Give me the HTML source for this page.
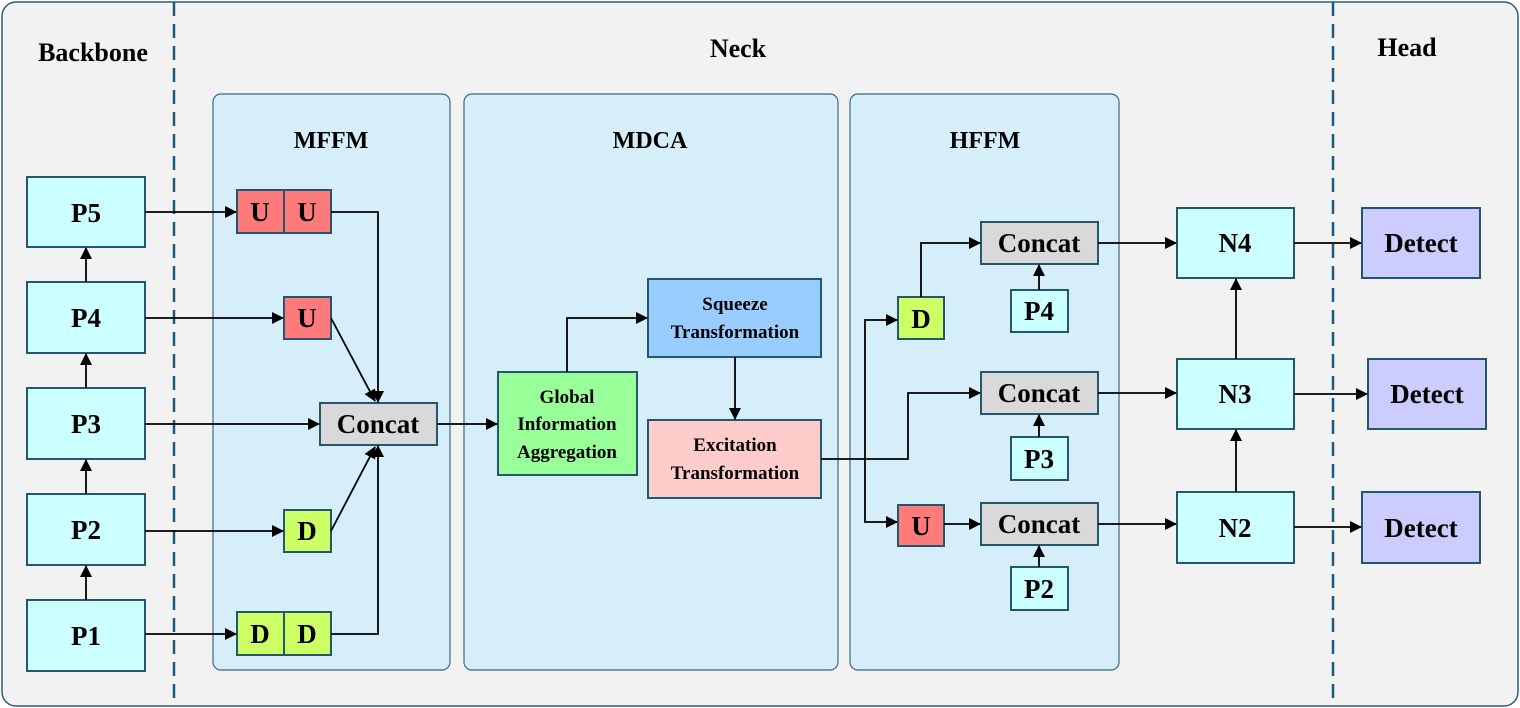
<!DOCTYPE html>
<html><head><style>body{margin:0;background:#fff}svg{display:block}</style></head><body>
<svg width="1520" height="708" viewBox="0 0 1520 708" xmlns="http://www.w3.org/2000/svg" font-family="Liberation Serif, serif" font-weight="bold">
<defs><marker id="a" markerWidth="12" markerHeight="12" refX="11" refY="6" orient="auto" markerUnits="userSpaceOnUse"><path d="M0,0L12,6L0,12z" fill="#000"/></marker></defs>
<rect x="2" y="2" width="1516" height="704" rx="14" fill="#f2f2f2" stroke="#2e5b74" stroke-width="1.5"/>
<g stroke="#1f5a7a" stroke-width="2.5" stroke-dasharray="14,8"><line x1="174" y1="2" x2="174" y2="706"/><line x1="1333" y1="2" x2="1333" y2="706"/></g>
<g fill="#d5eef9" stroke="#3a6a80" stroke-width="1.2"><rect x="213" y="94" width="237" height="576" rx="8"/><rect x="464" y="94" width="374" height="576" rx="8"/><rect x="850" y="94" width="269" height="576" rx="8"/></g>
<g font-size="26" text-anchor="middle"><text x="93" y="61">Backbone</text><text x="738" y="57">Neck</text><text x="1407" y="56">Head</text><text x="331" y="148" font-size="24">MFFM</text><text x="650" y="148" font-size="24">MDCA</text><text x="985" y="148" font-size="24">HFFM</text></g>
<g stroke="#24566e" stroke-width="2">
<g fill="#ccffff"><rect x="27" y="177" width="118" height="70"/><rect x="27" y="282" width="118" height="71"/><rect x="27" y="388" width="118" height="71"/><rect x="27" y="494" width="118" height="71"/><rect x="27" y="600" width="118" height="71"/>
<rect x="1011" y="290" width="57" height="42"/><rect x="1011" y="437" width="57" height="43"/><rect x="1011" y="567" width="57" height="43"/>
<rect x="1177" y="208" width="117" height="70"/><rect x="1177" y="359" width="117" height="70"/><rect x="1177" y="492" width="117" height="71"/></g>
<g fill="#ff7b7b"><rect x="237" y="190" width="47" height="43"/><rect x="284" y="190" width="47" height="43"/><rect x="284" y="297" width="47" height="42"/><rect x="898" y="505" width="46" height="41"/></g>
<g fill="#ccff66"><rect x="284" y="510" width="47" height="42"/><rect x="237" y="612" width="47" height="43"/><rect x="284" y="612" width="47" height="43"/><rect x="898" y="297" width="46" height="42"/></g>
<g fill="#d9d9d9"><rect x="320" y="403" width="117" height="42"/><rect x="981" y="222" width="117" height="42"/><rect x="981" y="372" width="117" height="42"/><rect x="981" y="503" width="117" height="42"/></g>
<rect x="498" y="372" width="139" height="103" fill="#99ff99"/><rect x="648" y="279" width="173" height="78" fill="#99ccff"/><rect x="648" y="420" width="173" height="78" fill="#ffcccc"/>
<g fill="#ccccff"><rect x="1362" y="208" width="118" height="70"/><rect x="1368" y="359" width="118" height="70"/><rect x="1362" y="492" width="118" height="71"/></g>
</g>
<g font-size="27" text-anchor="middle" fill="#000">
<text x="86" y="222">P5</text><text x="86" y="327">P4</text><text x="86" y="433">P3</text><text x="86" y="539">P2</text><text x="86" y="645">P1</text>
<text x="260" y="221">U</text><text x="307" y="221">U</text><text x="307" y="327">U</text><text x="307" y="540">D</text><text x="260" y="643">D</text><text x="307" y="643">D</text>
<text x="378" y="433">Concat</text><text x="1039" y="252">Concat</text><text x="1039" y="402">Concat</text><text x="1039" y="533">Concat</text>
<text x="921" y="328">D</text><text x="921" y="535">U</text>
<text x="1039" y="320">P4</text><text x="1039" y="468">P3</text><text x="1039" y="598">P2</text>
<text x="1235" y="252">N4</text><text x="1235" y="403">N3</text><text x="1235" y="537">N2</text>
<text x="1421" y="252">Detect</text><text x="1427" y="403">Detect</text><text x="1421" y="537">Detect</text>
<g font-size="19"><text x="567" y="403">Global</text><text x="567" y="430">Information</text><text x="567" y="458">Aggregation</text>
<text x="735" y="310">Squeeze</text><text x="735" y="338">Transformation</text><text x="735" y="451">Excitation</text><text x="735" y="479">Transformation</text></g>
</g>
<g stroke="#000" stroke-width="1.8" fill="none" marker-end="url(#a)">
<line x1="86" y1="282" x2="86" y2="248"/><line x1="86" y1="388" x2="86" y2="354"/><line x1="86" y1="494" x2="86" y2="460"/><line x1="86" y1="600" x2="86" y2="566"/>
<line x1="145" y1="212" x2="236" y2="212"/><line x1="145" y1="318" x2="283" y2="318"/><line x1="145" y1="424" x2="319" y2="424"/><line x1="145" y1="531" x2="283" y2="531"/><line x1="145" y1="634" x2="236" y2="634"/>
<polyline points="331,212 378,212 378,402"/><line x1="331" y1="318" x2="375" y2="401"/>
<line x1="331" y1="531" x2="375" y2="447"/><polyline points="331,634 378,634 378,446"/>
<line x1="437" y1="424" x2="497" y2="424"/>
<polyline points="567,372 567,318 647,318"/><line x1="735" y1="357" x2="735" y2="419"/>
<polyline points="821,459 908,459 908,393 980,393"/>
<polyline points="865,459 865,320 897,320"/><polyline points="865,459 865,522 897,522"/>
<line x1="944" y1="524" x2="980" y2="524"/>
<polyline points="921,297 921,243 980,243"/>
<line x1="1039" y1="290" x2="1039" y2="265"/><line x1="1039" y1="437" x2="1039" y2="415"/><line x1="1039" y1="567" x2="1039" y2="546"/>
<line x1="1098" y1="243" x2="1176" y2="243"/><line x1="1098" y1="393" x2="1176" y2="393"/><line x1="1098" y1="524" x2="1176" y2="524"/>
<line x1="1236" y1="359" x2="1236" y2="279"/><line x1="1236" y1="492" x2="1236" y2="430"/>
<line x1="1294" y1="243" x2="1361" y2="243"/><line x1="1294" y1="394" x2="1367" y2="394"/><line x1="1294" y1="527" x2="1361" y2="527"/>
</g>
</svg>
</body></html>
